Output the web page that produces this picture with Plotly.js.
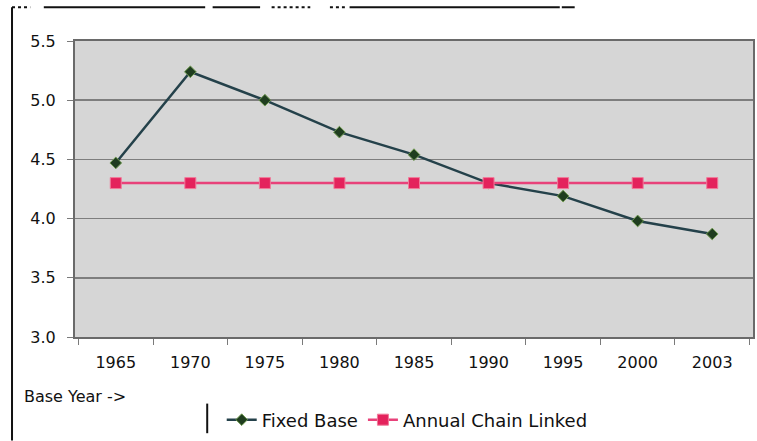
<!DOCTYPE html>
<html>
<head>
<meta charset="utf-8">
<script src="https://cdn.plot.ly/plotly-3.0.1.min.js"></script>
<style>
  html, body { margin: 0; padding: 0; background: #ffffff; }
  #chart { width: 757px; height: 441px; }
</style>
</head>
<body>
<div id="chart"></div>
<script>
// Base years on the category axis
const baseYears = ['1965', '1970', '1975', '1980', '1985', '1990', '1995', '2000', '2003'];

// Index values for each base year
const fixedBase = [4.47, 5.24, 5.00, 4.73, 4.54, 4.30, 4.19, 3.98, 3.87];
const annualChainLinked = [4.30, 4.30, 4.30, 4.30, 4.30, 4.30, 4.30, 4.30, 4.30];

// Y-axis ticks
const yTicks = [3.0, 3.5, 4.0, 4.5, 5.0, 5.5];
const yTickLabels = ['3.0', '3.5', '4.0', '4.5', '5.0', '5.5'];

const FONT = 'DejaVu Sans, Arial, sans-serif';

const traces = [
  {
    x: baseYears,
    y: fixedBase,
    name: 'Fixed Base',
    type: 'scatter',
    mode: 'lines+markers',
    line: { color: '#24414a', width: 2.5 },
    marker: { symbol: 'diamond', size: 9, color: '#1f3d1f', line: { color: '#6f9a4f', width: 1 } }
  },
  {
    x: baseYears,
    y: annualChainLinked,
    name: 'Annual Chain Linked',
    type: 'scatter',
    mode: 'lines+markers',
    line: { color: '#e8427a', width: 2.5 },
    marker: { symbol: 'square', size: 11, color: '#e4225c', line: { color: '#f07a9a', width: 1 } }
  }
];

// Frame lines around the chart area
const frame = [
  { x0: -0.0929, x1: -0.0929, y0: 1.114, y1: -0.35 },
  { x0: -0.0929, x1: -0.066, y0: 1.114, y1: 1.114, dash: 'dot' },
  { x0: -0.046, x1: 0.192, y0: 1.114, y1: 1.114 },
  { x0: 0.203, x1: 0.273, y0: 1.114, y1: 1.114 },
  { x0: 0.290, x1: 0.347, y0: 1.114, y1: 1.114, dash: 'dot' },
  { x0: 0.376, x1: 0.398, y0: 1.114, y1: 1.114, dash: 'dot' },
  { x0: 0.405, x1: 0.715, y0: 1.114, y1: 1.114 },
  { x0: 0.718, x1: 0.737, y0: 1.114, y1: 1.114 },
  { x0: 0.195, x1: 0.195, y0: -0.225, y1: -0.325 }
].map(s => ({
  type: 'line', xref: 'paper', yref: 'paper',
  x0: s.x0, x1: s.x1, y0: s.y0, y1: s.y1,
  line: { color: '#111111', width: 2, dash: s.dash || 'solid' }
}));

const layout = {
  width: 757,
  height: 441,
  margin: { l: 75, r: 4, t: 41, b: 103 },
  paper_bgcolor: '#ffffff',
  plot_bgcolor: '#d6d6d6',
  font: { family: FONT, size: 16, color: '#111111' },
  showlegend: true,
  legend: {
    orientation: 'h',
    x: 0.49, xanchor: 'center',
    y: -0.276, yanchor: 'middle',
    font: { family: FONT, size: 18, color: '#111111' },
    bgcolor: 'rgba(0,0,0,0)',
    itemwidth: 30,
    tracegroupgap: 0
  },
  xaxis: {
    type: 'category',
    categoryorder: 'array',
    categoryarray: baseYears,
    tickson: 'boundaries',
    ticks: 'outside',
    ticklen: 6,
    tickcolor: '#7a7a7a',
    ticklabelstandoff: 10,
    showgrid: false,
    showline: true,
    linecolor: '#6a6a6a',
    linewidth: 2,
    mirror: true,
    zeroline: false,
    tickfont: { family: FONT, size: 16, color: '#111111' }
  },
  yaxis: {
    range: [3.0, 5.5],
    tickvals: yTicks,
    ticktext: yTickLabels,
    ticks: 'outside',
    ticklen: 6,
    tickcolor: '#7a7a7a',
    ticklabelstandoff: 8,
    showgrid: true,
    gridcolor: '#7e7e7e',
    gridwidth: 1.5,
    showline: true,
    linecolor: '#6a6a6a',
    linewidth: 2,
    mirror: true,
    zeroline: false,
    tickfont: { family: FONT, size: 16, color: '#111111' }
  },
  annotations: [
    {
      text: 'Base Year ->',
      xref: 'paper', yref: 'paper',
      x: -0.078, xanchor: 'left',
      y: -0.202, yanchor: 'middle',
      showarrow: false,
      font: { family: FONT, size: 16, color: '#111111' }
    }
  ],
  shapes: frame
};

Plotly.newPlot('chart', traces, layout, { displayModeBar: false, staticPlot: true });
</script>
</body>
</html>
